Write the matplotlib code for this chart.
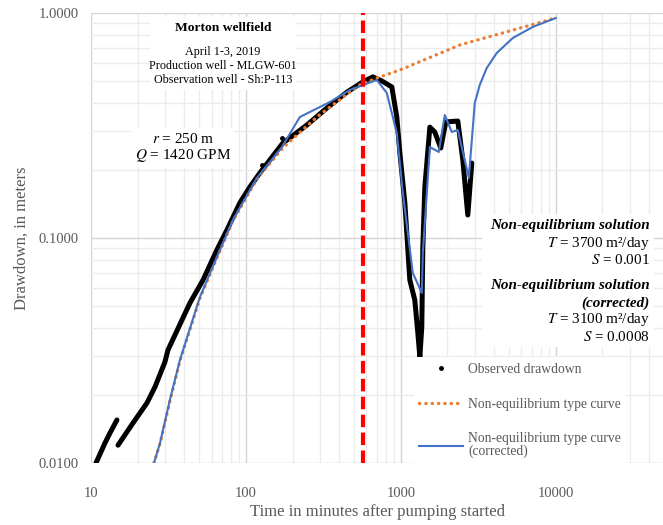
import numpy as np
import matplotlib
matplotlib.use("Agg")
import matplotlib.pyplot as plt
from matplotlib.lines import Line2D
from matplotlib.patches import Rectangle
from matplotlib.ticker import FixedLocator, FixedFormatter, LogLocator, NullFormatter

plt.rcParams['font.family'] = ['Liberation Serif', 'DejaVu Serif']
plt.rcParams['mathtext.fontset'] = 'stix'

nan = np.nan
# observed drawdown (minutes, meters); nan marks the gap in the record
obs_t = [10.77, 12.31, 13.26, 14.7, nan, 14.94, 18.66, 22.97, 25.9, 30.0, 31.4, 43.5,
         52.9, 65.0, 75.4, 91.4, 106.1, 123, 173, 248, 333, 449, 569, 660, 754, 875,
         942, 986, 1062, 1143, 1231, 1288, 1327, 1366, 1387, 1429, 1540, 1656, 1811,
         1951, 2333, 2513, 2706, 2872]
obs_s = [0.0100, 0.01227, 0.0136, 0.01553, nan, 0.0120, 0.01505, 0.01848, 0.0218,
         0.0281, 0.0318, 0.0514, 0.0651, 0.0886, 0.1085, 0.1433, 0.1686, 0.1945, 0.264,
         0.318, 0.378, 0.445, 0.494, 0.520, 0.499, 0.469, 0.345, 0.239, 0.143, 0.0651,
         0.053, 0.0378, 0.0296, 0.0402, 0.0912, 0.1686, 0.311, 0.296, 0.2512, 0.328,
         0.331, 0.2222, 0.1265, 0.2154]
stray_t = [127, 170.8]
stray_s = [0.211, 0.278]

# Theis type curve
theis_t = [25.5, 27.9, 32.3, 37.5, 50.5, 65.0, 82.4, 117.8, 173, 287, 469, 544, 700,
           986, 2405, 10000]
theis_s = [0.0100, 0.0122, 0.0188, 0.0284, 0.0540, 0.0815, 0.1190, 0.1830, 0.2512,
           0.345, 0.445, 0.479, 0.514, 0.558, 0.721, 0.95]

# Theis type curve corrected for pumping changes
corr_t = [25.5, 27.9, 32.3, 37.5, 50.5, 65.0, 82.4, 117.8, 170.8, 223, 348, 469, 700,
          812, 942, 1031, 1195, 1366, 1387, 1540, 1758, 1923, 2133, 2333, 2748, 3002,
          3233, 3589, 4162, 5280, 7110, 10000]
corr_s = [0.0100, 0.01227, 0.01905, 0.0287, 0.0547, 0.0823, 0.1202, 0.1849, 0.2536,
          0.345, 0.402, 0.455, 0.504, 0.441, 0.293, 0.1585, 0.0699, 0.057, 0.0858,
          0.2536, 0.2412, 0.352, 0.296, 0.302, 0.1849, 0.398, 0.479, 0.570, 0.664,
          0.774, 0.867, 0.95]

pump_change = 570

fig = plt.figure(figsize=(6.63, 5.25), dpi=100)
ax = fig.add_axes([91/663, 62/525, 573/663, 450/525])
ax.set_xscale('log')
ax.set_yscale('log')
ax.set_xlim(10, 50000)
ax.set_ylim(0.01, 1.0)

ax.grid(True, which='major', color='#d4d4d4', lw=1.0, zorder=0)
ax.grid(True, which='minor', color='#ececec', lw=1.0, zorder=0)
ax.xaxis.set_minor_locator(LogLocator(base=10, subs=np.arange(2, 10)))
ax.yaxis.set_minor_locator(LogLocator(base=10, subs=np.arange(2, 10)))
ax.xaxis.set_minor_formatter(NullFormatter())
ax.yaxis.set_minor_formatter(NullFormatter())
ax.xaxis.set_major_locator(FixedLocator([10, 100, 1000, 10000]))
ax.xaxis.set_major_formatter(FixedFormatter(['10', '100', '1000', '10000']))
ax.yaxis.set_major_locator(FixedLocator([0.01, 0.1, 1.0]))
ax.yaxis.set_major_formatter(FixedFormatter(['0.0100', '0.1000', '1.0000']))
ax.tick_params(which='both', length=0, labelsize=10.5, labelcolor='#595959')
ax.tick_params(axis='x', pad=17)
ax.tick_params(axis='y', pad=9)
for sp in ax.spines.values():
    sp.set_visible(False)

ax.set_xlabel('Time in minutes after pumping started', fontsize=12, color='#595959', labelpad=3)
ax.set_ylabel('Drawdown, in meters', fontsize=12, color='#595959', labelpad=6)

ax.axvline(pump_change, color='#ff0000', lw=3, ls=(0, (3, 1.3)), zorder=5)
ax.plot(obs_t, obs_s, color='black', lw=3.6, solid_capstyle='round', zorder=3)
ax.plot(stray_t, stray_s, 'o', color='black', ms=2.5, zorder=3)
orange_ls = (0, (0.1, 1.8))
ax.plot(theis_t, theis_s, color='#ed7d31', lw=2.4, ls=orange_ls,
        dash_capstyle='round', zorder=4)
ax.plot(corr_t, corr_s, color='#4472c4', lw=1.5, zorder=4)

def px(x, y):
    return (x - 91) / 573, (463 - y) / 450

def white_box(x0, y0, x1, y1):
    a0 = px(x0, y1)
    a1 = px(x1, y0)
    ax.add_patch(Rectangle(a0, a1[0] - a0[0], a1[1] - a0[1], transform=ax.transAxes,
                           facecolor='white', edgecolor='none', zorder=5.5))

white_box(150, 17, 296, 90)
white_box(132, 128, 234, 168)
white_box(482, 214, 654, 347)

ax.text(*px(223, 28), 'Morton wellfield', transform=ax.transAxes, ha='center', va='center',
        fontsize=9.7, fontweight='bold', zorder=6)
ax.text(*px(223, 66), 'April 1-3, 2019\nProduction well - MLGW-601\nObservation well - Sh:P-113',
        transform=ax.transAxes, ha='center', va='center', fontsize=8.7, linespacing=1.17,
        zorder=6)
ax.text(*px(183, 148), '$r$ = 250 m\n$Q$ = 1420 GPM', transform=ax.transAxes, ha='center',
        va='center', fontsize=11, linespacing=1.15, zorder=6)

def rtext(py, s, **kw):
    ax.text(*px(650, py), s, transform=ax.transAxes, ha='right',
            va='center', fontsize=10.9, zorder=6, **kw)
rtext(225, 'Non-equilibrium solution', fontweight='bold', fontstyle='italic')
rtext(243, '$T$ = 3700 m²/day')
rtext(260, '$S$ = 0.001')
rtext(285, 'Non-equilibrium solution', fontweight='bold', fontstyle='italic')
rtext(303, '(corrected)', fontweight='bold', fontstyle='italic')
rtext(320, '$T$ = 3100 m²/day')
rtext(337, '$S$ = 0.0008')

handles = [Line2D([], [], ls='none', marker='o', ms=2.5, color='black'),
           Line2D([], [], color='#ed7d31', lw=2.4, ls=orange_ls, dash_capstyle='round'),
           Line2D([], [], color='#4472c4', lw=1.5)]
labels = ['Observed drawdown', 'Non-equilibrium type curve',
          'Non-equilibrium type curve\n(corrected)']
leg = ax.legend(handles, labels, loc='upper left', bbox_to_anchor=(0.551, 0.25),
                frameon=True, fontsize=9.8, labelspacing=1.6, handlelength=3.2,
                handletextpad=0.4, borderpad=0.4, fancybox=False)
leg.get_frame().set_edgecolor('none')
leg.get_frame().set_facecolor('white')
leg.get_frame().set_alpha(1)
leg.set_zorder(6)
for t in leg.get_texts():
    t.set_color('#595959')
    t.set_linespacing(0.95)

fig.savefig('out.png', dpi=100)
